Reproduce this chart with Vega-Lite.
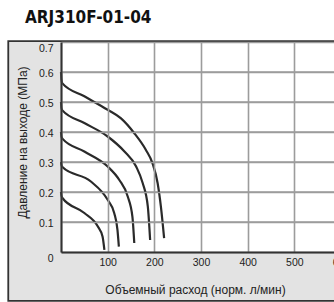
{
  "$schema": "https://vega.github.io/schema/vega-lite/v6.json",
  "width": 280,
  "height": 210,
  "autosize": {"type": "none"},
  "padding": {"left": 61, "top": 42, "right": 0, "bottom": 60},
  "background": "white",
  "title": {
    "text": "ARJ310F-01-04",
    "anchor": "start",
    "frame": "group",
    "dx": -36,
    "offset": 0,
    "baseline": "alphabetic",
    "font": "DejaVu Sans Condensed",
    "fontSize": 17,
    "fontWeight": "bold",
    "color": "#111"
  },
  "config": {
    "view": {"stroke": null, "fill": "white"},
    "axis": {
      "labelFont": "Liberation Sans",
      "labelFontSize": 10.5,
      "labelColor": "#222",
      "titleFont": "Liberation Sans",
      "titleFontSize": 12,
      "titleFontWeight": "normal",
      "titleColor": "#222",
      "grid": true,
      "gridColor": "#9c9c9c",
      "gridWidth": 1.6,
      "domainColor": "#333",
      "domainWidth": 2,
      "ticks": false,
      "labelOverlap": false
    }
  },
  "data": {
    "values": [
      {"s": "0.6", "q": 0, "p": 0.6},
      {"s": "0.6", "q": 1, "p": 0.575},
      {"s": "0.6", "q": 3, "p": 0.562},
      {"s": "0.6", "q": 50, "p": 0.519},
      {"s": "0.6", "q": 100, "p": 0.474},
      {"s": "0.6", "q": 128, "p": 0.446},
      {"s": "0.6", "q": 157, "p": 0.396},
      {"s": "0.6", "q": 182, "p": 0.34},
      {"s": "0.6", "q": 196, "p": 0.296},
      {"s": "0.6", "q": 207, "p": 0.23},
      {"s": "0.6", "q": 214, "p": 0.152},
      {"s": "0.6", "q": 221, "p": 0.046},
      {"s": "0.5", "q": 0, "p": 0.5},
      {"s": "0.5", "q": 1, "p": 0.48},
      {"s": "0.5", "q": 3, "p": 0.472},
      {"s": "0.5", "q": 50, "p": 0.43},
      {"s": "0.5", "q": 100, "p": 0.385},
      {"s": "0.5", "q": 136, "p": 0.335},
      {"s": "0.5", "q": 161, "p": 0.285},
      {"s": "0.5", "q": 175, "p": 0.23},
      {"s": "0.5", "q": 186, "p": 0.152},
      {"s": "0.5", "q": 191, "p": 0.04},
      {"s": "0.4", "q": 0, "p": 0.4},
      {"s": "0.4", "q": 1, "p": 0.385},
      {"s": "0.4", "q": 3, "p": 0.378},
      {"s": "0.4", "q": 50, "p": 0.335},
      {"s": "0.4", "q": 100, "p": 0.285},
      {"s": "0.4", "q": 125, "p": 0.24},
      {"s": "0.4", "q": 143, "p": 0.185},
      {"s": "0.4", "q": 153, "p": 0.118},
      {"s": "0.4", "q": 157, "p": 0.03},
      {"s": "0.3", "q": 0, "p": 0.3},
      {"s": "0.3", "q": 1, "p": 0.29},
      {"s": "0.3", "q": 3, "p": 0.283},
      {"s": "0.3", "q": 64, "p": 0.235},
      {"s": "0.3", "q": 100, "p": 0.174},
      {"s": "0.3", "q": 114, "p": 0.13},
      {"s": "0.3", "q": 121, "p": 0.074},
      {"s": "0.3", "q": 124, "p": 0.018},
      {"s": "0.2", "q": 0, "p": 0.2},
      {"s": "0.2", "q": 1, "p": 0.188},
      {"s": "0.2", "q": 3, "p": 0.18},
      {"s": "0.2", "q": 50, "p": 0.13},
      {"s": "0.2", "q": 79, "p": 0.085},
      {"s": "0.2", "q": 89, "p": 0.052},
      {"s": "0.2", "q": 93, "p": 0.007}
    ]
  },
  "layer": [
    {
      "data": {"values": [{}]},
      "mark": {"type": "rect", "fill": "#e3e3e3", "stroke": "#333", "strokeWidth": 1.8, "clip": false},
      "encoding": {
        "x": {
          "datum": -113,
          "type": "quantitative",
          "scale": {"domain": [0, 600], "nice": false},
          "axis": {
            "zindex": 2,
            "grid": true,
            "values": [0, 100, 200, 300, 400, 500, 600],
            "labelExpr": "datum.value === 0 ? '' : datum.label",
            "labelPadding": 5,
            "labelFlush": false,
            "title": "Объемный расход (норм. л/мин)",
            "titleX": 134,
            "titleY": 41,
            "titleBaseline": "alphabetic"
          }
        },
        "x2": {"datum": 720},
        "y": {
          "datum": 0.703,
          "type": "quantitative",
          "scale": {"domain": [0, 0.7], "nice": false},
          "axis": {
            "zindex": 2,
            "grid": true,
            "values": [0, 0.1, 0.2, 0.3, 0.4, 0.5, 0.6, 0.7],
            "labelExpr": "datum.value === 0 ? '0' : format(datum.value, '.1f')",
            "labelPadding": 8,
            "labelFlush": false,
            "labelOffset": 1.5,
            "labelBaseline": {"condition": {"test": "datum.value === 0 || datum.value === 0.7", "value": "top"}, "value": "middle"},
            "title": "Давление на выходе (МПа)",
            "titleX": -39,
            "titleY": 100,
            "titleBaseline": "middle"
          }
        },
        "y2": {"datum": -0.163}
      }
    },
    {
      "data": {"values": [{}]},
      "mark": {"type": "rect", "fill": "white", "clip": false},
      "encoding": {
        "x": {
          "datum": 0,
          "type": "quantitative",
          "scale": {"domain": [0, 600], "nice": false},
          "axis": {
            "zindex": 2,
            "grid": true,
            "values": [0, 100, 200, 300, 400, 500, 600],
            "labelExpr": "datum.value === 0 ? '' : datum.label",
            "labelPadding": 5,
            "labelFlush": false,
            "title": "Объемный расход (норм. л/мин)",
            "titleX": 134,
            "titleY": 41,
            "titleBaseline": "alphabetic"
          }
        },
        "x2": {"datum": 720},
        "y": {
          "datum": 0.7,
          "type": "quantitative",
          "scale": {"domain": [0, 0.7], "nice": false},
          "axis": {
            "zindex": 2,
            "grid": true,
            "values": [0, 0.1, 0.2, 0.3, 0.4, 0.5, 0.6, 0.7],
            "labelExpr": "datum.value === 0 ? '0' : format(datum.value, '.1f')",
            "labelPadding": 8,
            "labelFlush": false,
            "labelOffset": 1.5,
            "labelBaseline": {"condition": {"test": "datum.value === 0 || datum.value === 0.7", "value": "top"}, "value": "middle"},
            "title": "Давление на выходе (МПа)",
            "titleX": -39,
            "titleY": 100,
            "titleBaseline": "middle"
          }
        },
        "y2": {"datum": 0}
      }
    },
    {
      "data": {"values": [{"g": 0.1}, {"g": 0.2}, {"g": 0.3}, {"g": 0.4}, {"g": 0.5}, {"g": 0.6}]},
      "mark": {"type": "rule", "color": "#9c9c9c", "strokeWidth": 1.6, "clip": false},
      "encoding": {
        "x": {
          "datum": 0,
          "type": "quantitative",
          "scale": {"domain": [0, 600], "nice": false},
          "axis": {
            "zindex": 2,
            "grid": true,
            "values": [0, 100, 200, 300, 400, 500, 600],
            "labelExpr": "datum.value === 0 ? '' : datum.label",
            "labelPadding": 5,
            "labelFlush": false,
            "title": "Объемный расход (норм. л/мин)",
            "titleX": 134,
            "titleY": 41,
            "titleBaseline": "alphabetic"
          }
        },
        "x2": {"datum": 620},
        "y": {
          "field": "g",
          "type": "quantitative",
          "scale": {"domain": [0, 0.7], "nice": false},
          "axis": {
            "zindex": 2,
            "grid": true,
            "values": [0, 0.1, 0.2, 0.3, 0.4, 0.5, 0.6, 0.7],
            "labelExpr": "datum.value === 0 ? '0' : format(datum.value, '.1f')",
            "labelPadding": 8,
            "labelFlush": false,
            "labelOffset": 1.5,
            "labelBaseline": {"condition": {"test": "datum.value === 0 || datum.value === 0.7", "value": "top"}, "value": "middle"},
            "title": "Давление на выходе (МПа)",
            "titleX": -39,
            "titleY": 100,
            "titleBaseline": "middle"
          }
        }
      }
    },
    {
      "mark": {"type": "line", "interpolate": "monotone", "stroke": "#2a2a2a", "strokeWidth": 2.2},
      "encoding": {
        "x": {
          "field": "q",
          "type": "quantitative",
          "scale": {"domain": [0, 600], "nice": false},
          "axis": {
            "zindex": 2,
            "grid": true,
            "values": [0, 100, 200, 300, 400, 500, 600],
            "labelExpr": "datum.value === 0 ? '' : datum.label",
            "labelPadding": 5,
            "labelFlush": false,
            "title": "Объемный расход (норм. л/мин)",
            "titleX": 134,
            "titleY": 41,
            "titleBaseline": "alphabetic"
          }
        },
        "y": {
          "field": "p",
          "type": "quantitative",
          "scale": {"domain": [0, 0.7], "nice": false},
          "axis": {
            "zindex": 2,
            "grid": true,
            "values": [0, 0.1, 0.2, 0.3, 0.4, 0.5, 0.6, 0.7],
            "labelExpr": "datum.value === 0 ? '0' : format(datum.value, '.1f')",
            "labelPadding": 8,
            "labelFlush": false,
            "labelOffset": 1.5,
            "labelBaseline": {"condition": {"test": "datum.value === 0 || datum.value === 0.7", "value": "top"}, "value": "middle"},
            "title": "Давление на выходе (МПа)",
            "titleX": -39,
            "titleY": 100,
            "titleBaseline": "middle"
          }
        },
        "detail": {"field": "s"}
      }
    }
  ]
}
